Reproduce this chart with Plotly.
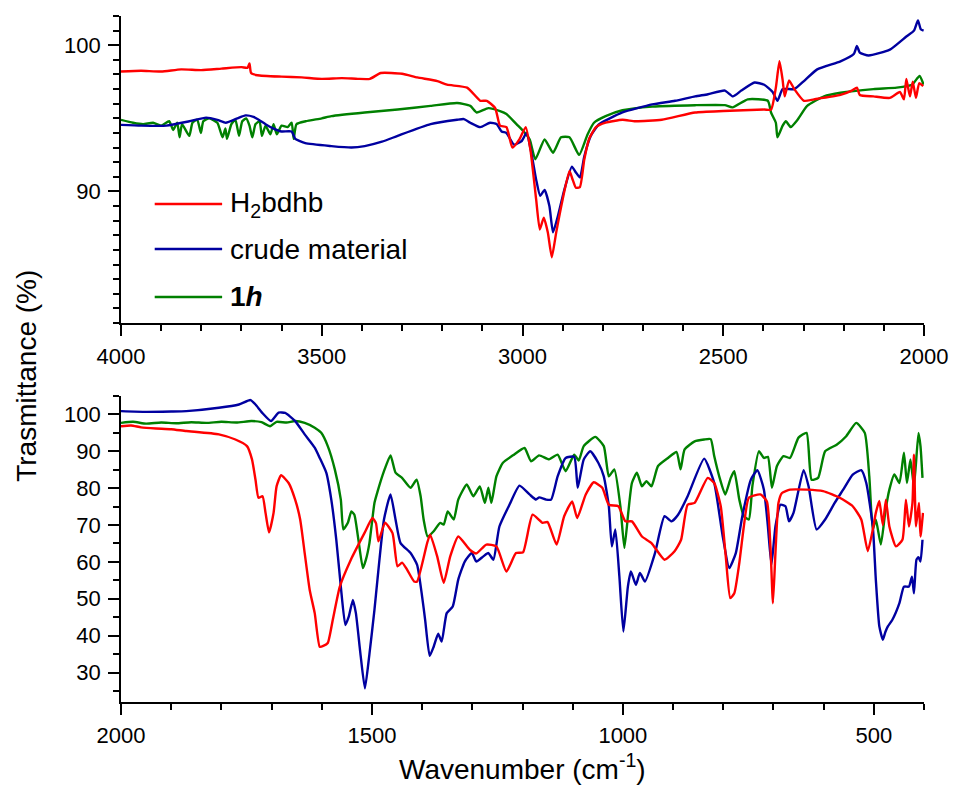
import plotly.graph_objects as go

# ---------------- data (wavenumber cm-1, transmittance %) ----------------
series_names = ["H<sub>2</sub>bdhb", "crude material", "<b>1<i>h</i></b>"]
series_colors = ["#ff0000", "#0000a0", "#008000"]

# upper panel: 4000 - 2000 cm-1
top_h2bdhb = [(4000, 98.2), (3950, 98.25), (3900, 98.2), (3850, 98.35), (3800, 98.3), (3750, 98.4),
              (3700, 98.5), (3685, 98.45), (3680, 98.75), (3676, 98.1), (3660, 97.95), (3600, 97.85),
              (3550, 97.8), (3500, 97.7), (3450, 97.75), (3410, 97.7), (3380, 97.7), (3353, 98.1),
              (3300, 98.05), (3262, 97.8), (3212, 97.55), (3188, 97.3), (3138, 97.1), (3105, 96.2),
              (3089, 96.2), (3068, 95.7), (3056, 94.5), (3040, 94.4), (3025, 93.0), (3007, 93.6),
              (2992, 94.4), (2980, 92.8), (2966, 89.45), (2957, 87.4), (2947, 88.2), (2937, 87.2),
              (2927, 85.5), (2916, 87.2), (2900, 89.45), (2883, 91.4), (2875, 90.8), (2867, 90.25),
              (2857, 90.3), (2846, 92.2), (2834, 93.6), (2817, 94.4), (2793, 94.7), (2751, 94.9),
              (2719, 94.8), (2653, 94.9), (2570, 95.4), (2500, 95.5), (2398, 95.6), (2381, 95.6),
              (2369, 97.1), (2360, 98.9), (2352, 97.6), (2347, 96.5), (2336, 97.6), (2323, 97.0),
              (2299, 96.2), (2274, 96.3), (2208, 96.6), (2180, 96.9), (2167, 97.1), (2160, 96.6),
              (2126, 96.5), (2085, 96.4), (2060, 96.8), (2050, 96.3), (2044, 97.7), (2035, 96.5),
              (2028, 97.5), (2020, 96.4), (2012, 97.4), (2002, 97.2)]

top_crude = [(4000, 94.55), (3950, 94.5), (3887, 94.5), (3830, 94.8), (3788, 95.05), (3760, 94.9),
             (3739, 94.7), (3710, 95.0), (3690, 95.2), (3670, 95.1), (3657, 94.9), (3640, 94.6),
             (3620, 94.3), (3600, 94.1), (3575, 94.1), (3566, 93.6), (3541, 93.3), (3476, 93.1),
             (3426, 93.0), (3393, 93.1), (3350, 93.4), (3311, 93.8), (3229, 94.6), (3163, 94.9),
             (3146, 94.95), (3130, 94.7), (3105, 94.4), (3081, 94.7), (3064, 94.6), (3052, 94.1),
             (3040, 94.0), (3021, 93.2), (3002, 93.45), (2990, 94.0), (2978, 92.65), (2966, 90.8),
             (2956, 89.7), (2945, 90.1), (2933, 89.0), (2924, 87.2), (2912, 88.3), (2896, 90.1),
             (2877, 91.7), (2867, 91.3), (2857, 90.95), (2846, 92.4), (2830, 93.8), (2809, 94.6),
             (2751, 95.4), (2677, 95.95), (2620, 96.2), (2570, 96.5), (2538, 96.65), (2496, 96.9),
             (2476, 96.5), (2455, 96.9), (2422, 97.45), (2398, 97.3), (2377, 96.8), (2365, 96.2),
             (2352, 97.0), (2323, 97.0), (2299, 97.55), (2266, 98.35), (2208, 98.9), (2175, 99.4),
             (2167, 99.95), (2160, 99.5), (2138, 99.3), (2085, 99.7), (2044, 100.6), (2025, 101.0),
             (2015, 101.7), (2008, 101.1), (2001, 101.0)]

top_1h = [(4000, 94.9), (3970, 94.7), (3945, 94.6), (3920, 94.7), (3900, 94.5), (3880, 94.8),
          (3870, 94.2), (3860, 94.7), (3854, 93.7), (3848, 94.6), (3830, 93.8), (3822, 94.7),
          (3810, 94.9), (3801, 94.0), (3795, 94.8), (3780, 95.0), (3760, 94.7), (3747, 93.7),
          (3740, 94.3), (3736, 93.6), (3725, 94.6), (3715, 94.9), (3706, 93.8), (3698, 94.8),
          (3688, 95.0), (3680, 94.5), (3673, 93.7), (3665, 94.6), (3655, 94.8), (3649, 93.8),
          (3640, 94.5), (3628, 93.9), (3620, 94.6), (3612, 93.9), (3600, 94.5), (3585, 94.4),
          (3575, 94.7), (3570, 93.6), (3563, 94.6), (3540, 94.8), (3500, 95.0), (3476, 95.15),
          (3393, 95.4), (3311, 95.6), (3229, 95.85), (3163, 96.05), (3130, 95.85), (3114, 95.4),
          (3085, 95.7), (3056, 95.5), (3040, 95.3), (3015, 94.6), (2997, 94.1), (2982, 93.55),
          (2968, 92.2), (2945, 93.55), (2924, 92.65), (2904, 93.7), (2883, 93.7), (2859, 92.5),
          (2838, 93.9), (2822, 94.7), (2793, 95.15), (2751, 95.55), (2677, 95.8), (2570, 95.9),
          (2496, 95.9), (2477, 95.75), (2439, 96.3), (2389, 96.2), (2381, 95.4), (2369, 94.7),
          (2365, 93.7), (2352, 94.5), (2344, 94.8), (2332, 94.4), (2315, 94.9), (2291, 95.85),
          (2249, 96.5), (2208, 96.75), (2126, 97.0), (2068, 97.1), (2030, 97.3), (2011, 97.9),
          (2001, 97.3)]

# lower panel: 2000 - 400 cm-1
bot_h2bdhb = [(2000, 96.8), (1980, 97.0), (1960, 96.5), (1930, 96.2), (1900, 96.0), (1870, 95.5),
              (1805, 94.6), (1772, 93.2), (1749, 91.4), (1739, 87.8), (1732, 82.3), (1726, 77.4),
              (1718, 77.8), (1712, 73.3), (1705, 68.0), (1696, 73.3), (1690, 80.5), (1681, 83.5),
              (1666, 81.4), (1653, 76.9), (1643, 71.5), (1634, 62.4), (1624, 52.4), (1614, 46.1),
              (1604, 37.0), (1597, 37.2), (1588, 38.0), (1578, 44.3), (1564, 53.3), (1542, 60.6),
              (1515, 67.8), (1499, 71.9), (1492, 70.5), (1487, 65.6), (1474, 70.6), (1459, 67.8),
              (1449, 58.8), (1440, 59.8), (1430, 57.9), (1416, 54.7), (1410, 54.7), (1390, 65.1),
              (1384, 67.4), (1370, 61.5), (1357, 54.3), (1344, 61.5), (1328, 66.9), (1305, 63.3),
              (1292, 62.3), (1272, 64.7), (1252, 64.2), (1232, 57.4), (1213, 62.4), (1199, 62.6),
              (1180, 72.8), (1160, 70.6), (1150, 70.8), (1132, 64.7), (1117, 72.4), (1101, 76.4),
              (1091, 71.9), (1074, 78.3), (1058, 81.6), (1041, 80.1), (1028, 75.5), (1009, 75.1),
              (995, 71.0), (982, 71.0), (962, 66.9), (943, 65.1), (917, 60.6), (897, 62.9),
              (884, 66.0), (871, 75.5), (857, 76.0), (831, 82.8), (818, 81.4), (805, 75.1),
              (795, 61.5), (786, 50.2), (778, 51.5), (768, 59.7), (759, 69.6), (749, 77.4),
              (726, 78.3), (713, 76.4), (706, 64.2), (701, 48.8), (696, 62.4), (690, 76.0),
              (683, 78.7), (667, 79.6), (634, 79.6), (601, 79.2), (568, 77.4), (542, 75.1),
              (525, 71.5), (512, 62.9), (502, 68.8), (496, 73.3), (489, 76.5), (482, 70.0),
              (476, 76.9), (469, 69.6), (456, 64.2), (443, 66.0), (436, 76.9), (430, 69.6),
              (423, 76.0), (420, 89.1), (416, 69.6), (410, 76.0), (407, 66.9), (402, 73.3)]

bot_crude = [(2000, 100.9), (1950, 100.7), (1900, 100.8), (1870, 100.9), (1805, 101.8), (1765, 102.7),
             (1742, 103.9), (1732, 102.7), (1719, 100.5), (1701, 98.2), (1686, 100.5), (1673, 100.4),
             (1653, 98.2), (1634, 94.6), (1614, 91.0), (1604, 88.2), (1591, 84.2), (1581, 76.9),
             (1571, 66.0), (1562, 53.3), (1553, 42.9), (1546, 45.2), (1538, 49.7), (1532, 46.1),
             (1523, 35.2), (1514, 25.7), (1505, 35.0), (1495, 47.0), (1489, 55.2), (1476, 71.5),
             (1463, 78.3), (1453, 71.5), (1443, 65.1), (1423, 62.4), (1410, 59.2), (1400, 50.6),
             (1394, 44.3), (1385, 34.5), (1377, 37.0), (1368, 40.5), (1361, 38.4), (1351, 46.1),
             (1339, 47.9), (1328, 55.2), (1315, 60.1), (1301, 62.4), (1292, 60.1), (1278, 61.5),
             (1268, 62.4), (1258, 60.6), (1246, 69.6), (1226, 75.5), (1206, 80.7), (1186, 78.3),
             (1173, 76.9), (1167, 77.5), (1153, 76.9), (1143, 76.9), (1130, 83.2), (1114, 88.2),
             (1097, 88.5), (1090, 80.1), (1078, 87.8), (1065, 90.0), (1049, 86.9), (1038, 83.2),
             (1028, 75.1), (1022, 64.2), (1015, 68.8), (1007, 56.1), (999, 41.1), (990, 53.3),
             (984, 57.4), (974, 53.8), (966, 57.0), (956, 54.7), (936, 62.4), (917, 72.4),
             (903, 71.0), (890, 72.8), (871, 77.8), (838, 88.0), (818, 81.4), (801, 66.9),
             (788, 58.3), (775, 62.4), (762, 72.4), (745, 82.3), (732, 84.9), (719, 79.6),
             (711, 69.6), (704, 59.2), (696, 69.6), (686, 75.5), (676, 75.1), (669, 71.0),
             (660, 73.3), (640, 84.9), (630, 80.5), (614, 68.8), (597, 71.5), (578, 76.0),
             (561, 79.6), (542, 83.7), (525, 84.9), (515, 81.4), (502, 69.6), (496, 55.2),
             (489, 42.5), (482, 38.9), (477, 41.0), (472, 42.5), (463, 44.3), (449, 48.8),
             (440, 53.3), (430, 53.3), (424, 56.0), (420, 51.5), (415, 60.6), (411, 61.3),
             (407, 60.1), (403, 66.0)]

bot_1h = [(2000, 97.7), (1976, 98.0), (1950, 97.5), (1920, 97.8), (1890, 97.6), (1860, 97.9),
          (1830, 97.7), (1800, 98.0), (1770, 97.8), (1740, 98.2), (1720, 97.9), (1703, 96.8),
          (1690, 98.0), (1670, 97.8), (1653, 98.2), (1634, 97.7), (1614, 96.4), (1601, 95.0),
          (1588, 91.4), (1574, 85.1), (1562, 76.9), (1557, 68.8), (1548, 70.6), (1541, 73.7),
          (1535, 72.8), (1527, 66.0), (1518, 58.3), (1512, 60.6), (1505, 65.1), (1495, 76.0),
          (1489, 79.0), (1476, 84.6), (1463, 88.9), (1453, 84.2), (1440, 82.8), (1423, 80.1),
          (1411, 82.3), (1403, 77.8), (1397, 71.5), (1389, 66.9), (1377, 68.3), (1364, 70.6),
          (1357, 70.1), (1349, 73.7), (1337, 71.5), (1328, 76.9), (1311, 81.0), (1298, 77.8),
          (1285, 80.5), (1275, 76.0), (1268, 80.1), (1262, 76.0), (1252, 83.2), (1239, 86.9),
          (1219, 88.9), (1196, 90.9), (1183, 87.3), (1167, 88.9), (1147, 87.8), (1130, 89.1),
          (1114, 84.6), (1097, 89.1), (1088, 87.5), (1078, 91.4), (1055, 93.9), (1038, 91.4),
          (1028, 83.2), (1017, 85.1), (1005, 75.1), (997, 63.8), (989, 73.7), (982, 81.4),
          (972, 84.2), (962, 80.5), (953, 81.9), (943, 80.5), (930, 86.0), (910, 88.2),
          (893, 89.8), (885, 85.1), (877, 90.5), (857, 92.7), (838, 93.2), (825, 93.3),
          (818, 88.7), (808, 83.2), (796, 78.3), (785, 82.8), (778, 84.6), (768, 76.9),
          (759, 72.4), (749, 71.5), (742, 80.5), (729, 90.0), (719, 88.2), (711, 88.5),
          (703, 80.1), (693, 86.0), (680, 88.7), (667, 88.2), (650, 93.7), (634, 95.0),
          (624, 82.3), (611, 82.8), (597, 90.0), (574, 91.8), (555, 94.1), (535, 97.7),
          (518, 95.0), (509, 83.2), (502, 68.8), (496, 71.5), (486, 64.7), (477, 73.7),
          (469, 79.6), (459, 83.7), (449, 81.4), (440, 89.6), (434, 81.4), (427, 87.8),
          (420, 80.5), (411, 95.0), (407, 91.4), (403, 82.8)]

top_series = [top_h2bdhb, top_crude, top_1h]
bot_series = [bot_h2bdhb, bot_crude, bot_1h]

# axis ranges / ticks
top_x_range = [4000, 2000]
top_y_range = [81, 102]
bot_x_range = [2000, 400]
bot_y_range = [22, 105]

# ---------------- figure ----------------
W, H = 960, 787
ML, MR, MT, MB = 121, 29, 16, 85
PW, PH = W - ML - MR, H - MT - MB


def px_x(px):
    return (px - ML) / PW


def px_y(py):
    return (H - MB - py) / PH


fig = go.Figure()
draw_order = [2, 1, 0]
for i in draw_order:
    for data, xa, ya in ((top_series[i], "x", "y"), (bot_series[i], "x2", "y2")):
        fig.add_trace(go.Scatter(
            x=[p[0] for p in data], y=[p[1] for p in data],
            mode="lines", line=dict(color=series_colors[i], width=2.4, shape="spline", smoothing=0.5),
            xaxis=xa, yaxis=ya, showlegend=False, hoverinfo="skip"))

FONT = "Liberation Sans, Arial, sans-serif"
axis_common = dict(
    showline=True, linecolor="black", linewidth=1.6, mirror=False,
    ticks="outside", ticklen=11, tickwidth=1.5, tickcolor="black",
    showgrid=False, zeroline=False,
    tickfont=dict(family=FONT, size=22, color="black"),
)
minor_common = dict(ticks="outside", ticklen=6, tickwidth=1.5, tickcolor="black")

fig.update_layout(
    width=W, height=H,
    margin=dict(l=ML, r=MR, t=MT, b=MB),
    paper_bgcolor="white", plot_bgcolor="white",
    showlegend=False,
    xaxis=dict(domain=[0, 1], anchor="y", range=top_x_range, tick0=0, dtick=500,
               minor=dict(dtick=100, **minor_common), ticklabelstandoff=2, **axis_common),
    yaxis=dict(domain=[px_y(323), 1], anchor="x", range=top_y_range, tick0=0, dtick=10,
               minor=dict(dtick=1, **minor_common), ticklabelstandoff=3, **axis_common),
    xaxis2=dict(domain=[0, 1], anchor="y2", range=bot_x_range, tick0=0, dtick=500,
                minor=dict(dtick=100, **minor_common), ticklabelstandoff=2, **axis_common),
    yaxis2=dict(domain=[0, px_y(396)], anchor="x2", range=bot_y_range, tick0=0, dtick=10,
                minor=dict(dtick=5, **minor_common), ticklabelstandoff=3, **axis_common),
)

# axis titles
fig.add_annotation(text="Trasmittance (%)", textangle=-90, xref="paper", yref="paper",
                   x=px_x(26), y=px_y(376), xanchor="center", yanchor="middle", showarrow=False,
                   font=dict(family=FONT, size=28, color="black"))
fig.add_annotation(text="Wavenumber (cm<sup>-1</sup>)", xref="paper", yref="paper",
                   x=0.5, y=px_y(767), xanchor="center", yanchor="middle", showarrow=False,
                   font=dict(family=FONT, size=28, color="black"))

# legend drawn as line keys + labels in the upper panel
legend_rows_py = [204, 249, 297]
for i, py in enumerate(legend_rows_py):
    fig.add_shape(type="line", xref="paper", yref="paper",
                  x0=px_x(155), x1=px_x(223), y0=px_y(py), y1=px_y(py),
                  line=dict(color=series_colors[i], width=2.4))
    fig.add_annotation(text=series_names[i], xref="paper", yref="paper",
                       x=px_x(229), y=px_y(py), xanchor="left", yanchor="middle", showarrow=False,
                       font=dict(family=FONT, size=28, color="black"))

fig.write_html("out.html")
